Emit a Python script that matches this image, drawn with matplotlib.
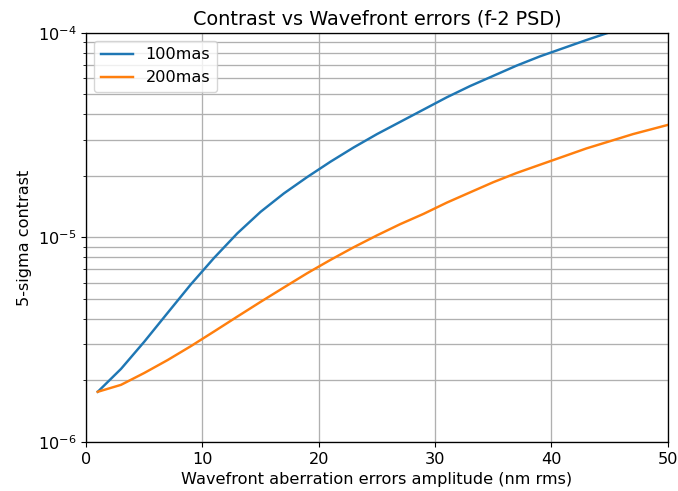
import matplotlib
matplotlib.use("Agg")
import matplotlib.pyplot as plt
import numpy as np

plt.rcParams['font.size'] = 11.6
plt.rcParams['lines.linewidth'] = 1.75
plt.rcParams['grid.linewidth'] = 0.95
plt.rcParams['axes.linewidth'] = 0.95

# wavefront error amplitude (nm rms)
wfe = [1, 3, 5, 7, 9, 11, 13, 15, 17, 19, 21, 23, 25,
       27, 29, 31, 33, 35, 37, 39, 41, 43, 45, 47, 49, 51]

contrast_100mas = [1.758e-6, 2.275e-6, 3.09e-6, 4.27e-6, 5.89e-6, 7.94e-6,
                   1.047e-5, 1.334e-5, 1.641e-5, 1.972e-5, 2.344e-5, 2.754e-5,
                   3.199e-5, 3.673e-5, 4.217e-5, 4.842e-5, 5.495e-5, 6.166e-5,
                   6.918e-5, 7.674e-5, 8.414e-5, 9.226e-5, 1.007e-4, 1.096e-4,
                   1.189e-4, 1.288e-4]

contrast_200mas = [1.758e-6, 1.901e-6, 2.173e-6, 2.512e-6, 2.938e-6, 3.467e-6,
                   4.10e-6, 4.84e-6, 5.69e-6, 6.68e-6, 7.76e-6, 8.95e-6,
                   1.023e-5, 1.161e-5, 1.303e-5, 1.479e-5, 1.660e-5, 1.862e-5,
                   2.065e-5, 2.265e-5, 2.483e-5, 2.723e-5, 2.951e-5, 3.199e-5,
                   3.428e-5, 3.673e-5]

fig = plt.figure(figsize=(6.78, 4.91), dpi=100)
ax = fig.add_axes([0.127, 0.100, 0.858, 0.833])

ax.plot(wfe, contrast_100mas, label="100mas")
ax.plot(wfe, contrast_200mas, label="200mas")
ax.set_yscale('log')
ax.set_xlim(0, 50)
ax.set_ylim(1e-6, 1e-4)
ax.grid(which='both')
ax.set_title("Contrast vs Wavefront errors (f-2 PSD)", fontsize=13.9)
ax.set_xlabel("Wavefront aberration errors amplitude (nm rms)")
ax.set_ylabel("5-sigma contrast")
ax.legend(loc='upper left')

fig.savefig("out.png")
